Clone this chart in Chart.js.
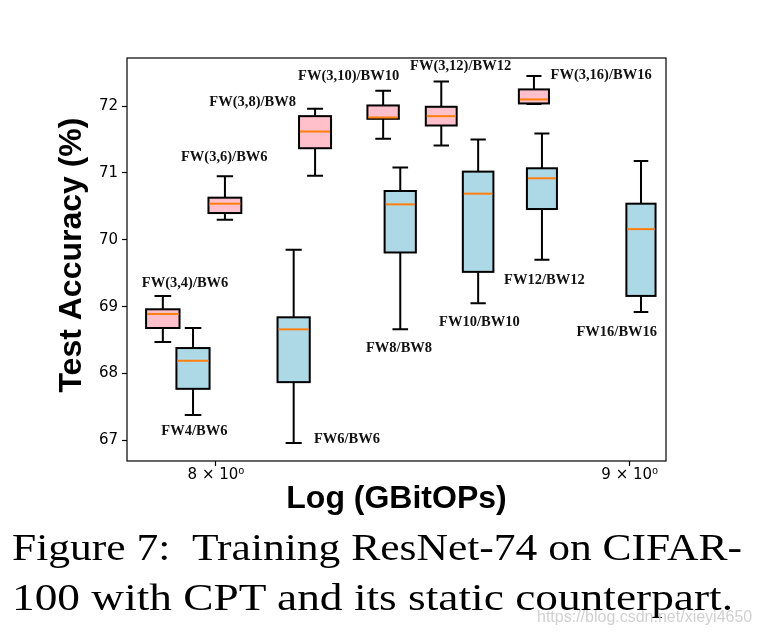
<!DOCTYPE html>
<html>
<head>
<meta charset="utf-8">
<script src="https://cdn.jsdelivr.net/npm/chart.js@4/dist/chart.umd.min.js"></script>
<style>
    body { margin:0; background:#fff; }
    #wrap { position:relative; width:760px; height:637px; overflow:hidden; }
    .cap { position:absolute; left:12px; font-family:"Liberation Serif","Times New Roman",serif; font-size:38.5px; line-height:50.7px; color:#000; white-space:nowrap; transform-origin:0 0; }
    #cap1 { top:521.7px; }
    #cap2 { top:572.4px; }
    #mark { position:absolute; left:537px; top:608px; font-family:"Liberation Sans",Arial,sans-serif; font-size:16px; color:#d0d0d0; white-space:nowrap; }
</style>
</head>
<body>
<div id="wrap">
    <canvas id="boxChart" width="760" height="637"></canvas>
    <div class="cap" id="cap1">Figure 7: &nbsp;Training ResNet-74 on CIFAR-</div>
    <div class="cap" id="cap2">100 with CPT and its static counterpart.</div>
    <div id="mark">https://blog.csdn.net/xieyi4650</div>
</div>
<script>
// CPT runs (pink boxes)
const cptNames = ['FW(3,4)/BW6','FW(3,6)/BW6','FW(3,8)/BW8','FW(3,10)/BW10','FW(3,12)/BW12','FW(3,16)/BW16'];
const cptX   = [7.880, 8.0205, 8.229, 8.390, 8.530, 8.758];
const cptMin = [68.47, 70.30, 70.96, 71.51, 71.41, 72.03];
const cptQ1  = [68.68, 70.40, 71.37, 71.81, 71.71, 72.04];
const cptMed = [68.89, 70.54, 71.62, 71.83, 71.85, 72.10];
const cptQ3  = [68.96, 70.63, 71.85, 72.01, 71.99, 72.25];
const cptMax = [69.16, 70.95, 71.96, 72.23, 72.37, 72.45];
const cptLabelX = [7.930, 8.019, 8.084, 8.308, 8.577, 8.927];
const cptLabelY = [69.35, 71.24, 72.06, 72.45, 72.60, 72.46];

// static counterparts (blue boxes)
const staticNames = ['FW4/BW6','FW6/BW6','FW8/BW8','FW10/BW10','FW12/BW12','FW16/BW16'];
const staticX   = [7.948, 8.179, 8.431, 8.620, 8.778, 9.029];
const staticMin = [67.38, 66.96, 68.66, 69.05, 69.70, 68.92];
const staticQ1  = [67.77, 67.87, 69.81, 69.52, 70.46, 69.16];
const staticMed = [68.19, 68.66, 70.53, 70.69, 70.92, 70.16];
const staticQ3  = [68.38, 68.84, 70.73, 71.02, 71.07, 70.54];
const staticMax = [68.68, 69.85, 71.08, 71.50, 71.59, 71.18];
const staticLabelX = [7.951, 8.304, 8.428, 8.623, 8.784, 8.967];
const staticLabelY = [67.14, 67.01, 68.38, 68.77, 69.40, 68.62];

const xTicks = [8, 9];
const yTicks = [67, 68, 69, 70, 71, 72];

const boxWidth = 0.075; // in data units, like matplotlib widths=

function drawBoxes(chart, xs, mins, q1s, meds, q3s, maxs, fill) {
    const ctx = chart.ctx;
    const x = chart.scales.x, y = chart.scales.y;
    for (let i = 0; i < xs.length; i++) {
        let xl = x.getPixelForValue(xs[i] - boxWidth / 2);
        let xr = x.getPixelForValue(xs[i] + boxWidth / 2);
        let xc = x.getPixelForValue(xs[i]);
        let cl = x.getPixelForValue(xs[i] - boxWidth / 4);
        let cr = x.getPixelForValue(xs[i] + boxWidth / 4);
        let yMin = y.getPixelForValue(mins[i]), yQ1 = y.getPixelForValue(q1s[i]);
        let yMed = y.getPixelForValue(meds[i]), yQ3 = y.getPixelForValue(q3s[i]);
        let yMax = y.getPixelForValue(maxs[i]);

        ctx.strokeStyle = '#000';
        ctx.lineWidth = 2;
        ctx.beginPath();
        // whiskers
        ctx.moveTo(xc, yQ1); ctx.lineTo(xc, yMin);
        ctx.moveTo(cl, yMin); ctx.lineTo(cr, yMin);
        ctx.moveTo(xc, yQ3); ctx.lineTo(xc, yMax);
        ctx.moveTo(cl, yMax); ctx.lineTo(cr, yMax);
        ctx.stroke();

        ctx.fillStyle = fill;
        ctx.fillRect(xl, yQ3, xr - xl, yQ1 - yQ3);
        ctx.strokeRect(xl, yQ3, xr - xl, yQ1 - yQ3);

        ctx.strokeStyle = '#ff7f0e';
        ctx.lineWidth = 2;
        ctx.beginPath();
        ctx.moveTo(xl + 1, yMed); ctx.lineTo(xr - 1, yMed);
        ctx.stroke();
    }
}

function drawNames(chart, names, lx, ly) {
    const ctx = chart.ctx;
    ctx.fillStyle = '#111';
    ctx.font = 'bold 14.5px "Liberation Serif", "Times New Roman", serif';
    ctx.textAlign = 'center';
    ctx.textBaseline = 'middle';
    for (let i = 0; i < names.length; i++) {
        ctx.fillText(names[i], chart.scales.x.getPixelForValue(lx[i]), chart.scales.y.getPixelForValue(ly[i]));
    }
}

const boxPlugin = {
    id: 'boxes',
    afterDatasetsDraw(chart) {
        const ctx = chart.ctx;
        const a = chart.chartArea;
        ctx.save();
        drawBoxes(chart, cptX, cptMin, cptQ1, cptMed, cptQ3, cptMax, '#ffc0cb');
        drawBoxes(chart, staticX, staticMin, staticQ1, staticMed, staticQ3, staticMax, '#add8e6');
        drawNames(chart, cptNames, cptLabelX, cptLabelY);
        drawNames(chart, staticNames, staticLabelX, staticLabelY);
        // plot frame
        ctx.strokeStyle = '#000';
        ctx.lineWidth = 1.2;
        ctx.strokeRect(a.left, a.top, a.right - a.left, a.bottom - a.top);
        ctx.restore();
    }
};

var boxChart = new Chart(document.getElementById('boxChart'), {
    type: 'scatter',
    data: {
        datasets: [{
            label: 'CPT',
            data: cptX.map((v, i) => ({x: v, y: cptMed[i]})),
            pointRadius: 0
        }, {
            label: 'static',
            data: staticX.map((v, i) => ({x: v, y: staticMed[i]})),
            pointRadius: 0
        }]
    },
    options: {
        responsive: false,
        animation: false,
        events: [],
        layout: { padding: { top: 58, right: 94, bottom: 116, left: 0 } },
        plugins: { legend: { display: false }, tooltip: { enabled: false } },
        scales: {
            x: {
                type: 'logarithmic',
                min: 7.8256,
                max: 9.0935,
                afterBuildTicks: function(s) { s.ticks = xTicks.map(v => ({value: v})); },
                afterFit: function(s) { s.height = 60; },
                ticks: {
                    color: '#000',
                    padding: 0,
                    maxRotation: 0,
                    font: { family: '"DejaVu Sans"', size: 15 },
                    callback: function(v) { return v + ' \u00d7 10\u2070'; }
                },
                grid: { drawOnChartArea: false, tickLength: 5, tickColor: '#000', tickWidth: 1.2 },
                border: { display: false },
                title: {
                    display: true,
                    text: 'Log (GBitOPs)',
                    color: '#000',
                    padding: { top: 0, bottom: 2.5 },
                    font: { family: '"Liberation Sans", Arial, sans-serif', size: 32, weight: 'bold' }
                }
            },
            y: {
                min: 66.69,
                max: 72.72,
                afterBuildTicks: function(s) { s.ticks = yTicks.map(v => ({value: v})); },
                afterFit: function(s) { s.width = 127; },
                ticks: {
                    color: '#000',
                    padding: 4,
                    font: { family: '"DejaVu Sans"', size: 15 }
                },
                grid: { drawOnChartArea: false, tickLength: 5, tickColor: '#000', tickWidth: 1.2 },
                border: { display: false },
                title: {
                    display: true,
                    text: ' Test Accuracy (%)',
                    color: '#000',
                    padding: { top: 52.5, bottom: 0 },
                    font: { family: '"Liberation Sans", Arial, sans-serif', size: 32, weight: 'bold' }
                }
            }
        }
    },
    plugins: [boxPlugin]
});

// the caption in the source image is stretched sideways; fit each line to its width
function fitLine(id, w) {
    let el = document.getElementById(id);
    el.style.transform = 'scaleX(' + (w / el.scrollWidth) + ')';
}
fitLine('cap1', 730);
fitLine('cap2', 721);
</script>
</body>
</html>
